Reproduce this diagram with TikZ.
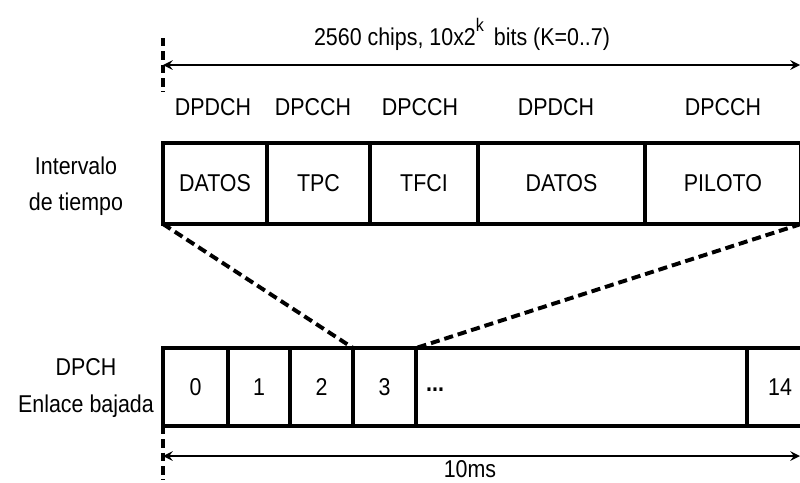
\documentclass[tikz,border=0pt]{standalone}
\usepackage{fontspec}
\setmainfont{Liberation Sans}[FakeStretch=0.88]
\usetikzlibrary{positioning, calc}

\begin{document}
\begin{tikzpicture}[
            x=0.025cm, y=-0.025cm,
            font=\fontsize{17.3}{26}\selectfont,
            campo/.style={draw, line width=3.2pt, inner sep=0pt, outer sep=0pt, minimum height=81*0.025cm, anchor=west},
            ranura/.style={draw, line width=3.2pt, inner sep=0pt, outer sep=0pt, minimum height=78*0.025cm, anchor=west},
            medida/.style={<->, line width=2pt, >=stealth},
            guia/.style={line width=2.4pt, dash pattern=on 6pt off 3.5pt},
            zoomlinea/.style={line width=2.8pt, dash pattern=on 6.5pt off 3.5pt}
        ]
            \useasboundingbox (0,0) rectangle (800,482);
            \clip (0,0) rectangle (800,482);

            % Intervalo de tiempo
            \node[campo, minimum width=104*0.025cm] (datos1) at (163,183.5) {DATOS};
            \node[campo, minimum width=103*0.025cm] (tpc) at (datos1.east) {TPC};
            \node[campo, minimum width=108*0.025cm] (tfci) at (tpc.east) {TFCI};
            \node[campo, minimum width=167*0.025cm] (datos2) at (tfci.east) {DATOS};
            \node[campo, minimum width=156*0.025cm] (piloto) at (datos2.east) {PILOTO};

            % Canales sobre cada campo
            \node (c1) at (213,107) {DPDCH};
            \node (c2) at (313,107) {DPCCH};
            \node (c3) at (420,107) {DPCCH};
            \node (c4) at (556,107) {DPDCH};
            \node (c5) at (723,107) {DPCCH};

            \node[align=center] (intervalo) at (76,186) {Intervalo\\de tiempo};

            % Trama DPCH
            \node[ranura, minimum width=65*0.025cm] (r0) at (163,387) {0};
            \node[ranura, minimum width=62*0.025cm] (r1) at (r0.east) {1};
            \node[ranura, minimum width=63*0.025cm] (r2) at (r1.east) {2};
            \node[ranura, minimum width=63*0.025cm] (r3) at (r2.east) {3};
            \node[ranura, minimum width=331*0.025cm] (resto) at (r3.east) {};
            \node[ranura, minimum width=66*0.025cm] (r14) at (resto.east) {14};
            \node[anchor=west, inner sep=0pt, yshift=-2pt] (puntos) at ([xshift=7pt]resto.west) {\textbf{...}};

            \node[align=center] (dpch) at (86,388) {DPCH\\Enlace bajada};

            % Lineas de ampliacion
            \draw[zoomlinea] (datos1.south west) -- (r2.north east);
            \draw[zoomlinea] (piloto.south east) -- (resto.north west);

            % Medidas
            \coordinate (ini1) at (163,65);
            \coordinate (fin1) at (800,65);
            \draw[guia] (163,38) -- (163,92);
            \draw[medida] (ini1) -- (fin1);
            \node (titulo) at (462,34) {2560 chips, 10x2\raisebox{1.1ex}{\fontsize{13}{13}\selectfont k}\, bits (K=0..7)};

            \coordinate (ini2) at (163,456);
            \coordinate (fin2) at (800,456);
            \draw[guia] (r0.south west) -- (163,480);
            \draw[medida] (ini2) -- (fin2);
            \node (duracion) at (470,469) {10ms};
          \end{tikzpicture}
\end{document}
